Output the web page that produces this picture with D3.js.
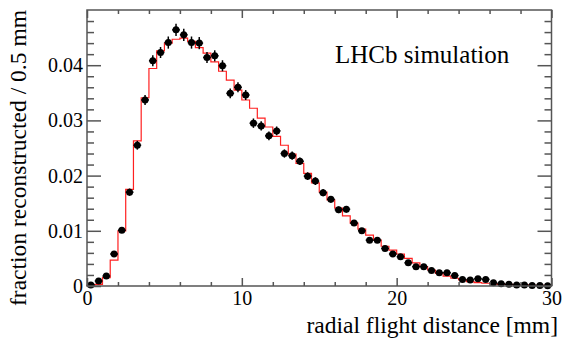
<!DOCTYPE html>
<html><head><meta charset="utf-8">
<script src="https://cdn.jsdelivr.net/npm/d3@7"></script>
<style>
html,body{margin:0;padding:0;background:#fff;}
svg{display:block;}
</style></head>
<body>
<svg id="c" width="581" height="346"></svg>
<script>
// bin edges: 60 bins of 0.5 mm from 0 to 30
const binWidth = 0.5;
const binLow = d3.range(0, 30, 0.5);
// data points (fraction reconstructed / 0.5 mm)
const dataValues = [
 0.0002,0.0009,0.0018,0.0058,0.0101,0.0170,0.0255,0.0337,0.0408,0.0423,
 0.0441,0.0464,0.0455,0.0441,0.0440,0.0414,0.0417,0.0399,0.0349,0.0360,
 0.0346,0.0295,0.0290,0.0272,0.0281,0.0240,0.0236,0.0226,0.0199,0.0190,
 0.0169,0.0157,0.0138,0.0139,0.0114,0.0100,0.0083,0.0083,0.0068,0.0058,
 0.0053,0.0042,0.0035,0.0035,0.0028,0.0024,0.0024,0.0019,0.0012,0.0011,
 0.0013,0.0012,0.0006,0.0004,0.0003,0.0002,0.0002,0.0001,0.0001,0.00005];
const dataErrors = [
 0.0001,0.00015,0.0002,0.00035,0.0005,0.00065,0.0008,0.0009,0.001,0.001,
 0.0011,0.0011,0.0011,0.0011,0.0011,0.001,0.001,0.001,0.0009,0.0009,
 0.0009,0.00085,0.00085,0.0008,0.0008,0.00075,0.00075,0.0007,0.0007,0.0007,
 0.00065,0.0006,0.0006,0.0006,0.00055,0.0005,0.00045,0.00045,0.0004,0.00035,
 0.00035,0.0003,0.0003,0.0003,0.00025,0.00025,0.00025,0.0002,0.00015,0.00015,
 0.00015,0.00015,0.0001,0.0001,0.0001,0.0001,0.0001,0.0001,0.0001,0.0001];
// simulation histogram (red)
const simValues = [
 0.0001,0.0003,0.0015,0.0047,0.0100,0.0175,0.0263,0.0341,0.0394,0.0426,
 0.0440,0.0447,0.0449,0.0443,0.0432,0.0422,0.0406,0.0389,0.0373,0.0355,
 0.0337,0.0322,0.0304,0.0288,0.0271,0.0255,0.0239,0.0222,0.0204,0.0187,
 0.0170,0.0156,0.0141,0.0127,0.0114,0.0103,0.0092,0.0083,0.0072,0.0065,
 0.0058,0.0050,0.0042,0.0035,0.0029,0.0023,0.0018,0.0014,0.0011,0.0008,
 0.0006,0.0005,0.0004,0.0003,0.0003,0.0002,0.0002,0.0001,0.0001,0.0001];
const xMajor = [0,10,20,30];
const xMinor = [2,4,6,8,12,14,16,18,22,24,26,28];
const yMajor = [0,0.01,0.02,0.03,0.04];
const yMinor = [0.002,0.004,0.006,0.008,0.012,0.014,0.016,0.018,0.022,0.024,0.026,0.028,0.032,0.034,0.036,0.038,0.042,0.044,0.046,0.048];
const yTickLabels = ["0","0.01","0.02","0.03","0.04"];
const xTitle = "radial flight distance [mm]";
const yTitle = "fraction reconstructed / 0.5 mm";
const label = "LHCb simulation";

const FONT = '"Liberation Serif"';
const L=87, R=551.5, T=10, B=286;
const x = d3.scaleLinear().domain([0,30]).range([L,R]);
const y = d3.scaleLinear().domain([0,0.05]).range([B,T]);
const svg = d3.select("#c");
const axisCol = "#555";

// histogram step line
const stepPts = [];
binLow.forEach((lo,i)=>{ stepPts.push([lo, simValues[i]]); stepPts.push([lo+binWidth, simValues[i]]); });
const line = d3.line().x(d=>x(d[0])).y(d=>y(d[1]));
svg.append("path").attr("d", line([[0,0]].concat(stepPts)))
  .attr("fill","none").attr("stroke","#ff2020").attr("stroke-width",1.2);

// data points
const g = svg.append("g");
binLow.forEach((lo,i)=>{
  const cx = x(lo+binWidth/2), v = dataValues[i], e = dataErrors[i];
  g.append("line").attr("x1",cx).attr("x2",cx).attr("y1",y(v-e)).attr("y2",y(v+e))
    .attr("stroke","#000").attr("stroke-width",1.5);
  g.append("line").attr("x1",x(lo)).attr("x2",x(lo+binWidth)).attr("y1",y(v)).attr("y2",y(v))
    .attr("stroke","#000").attr("stroke-width",1.5);
  g.append("circle").attr("cx",cx).attr("cy",y(v)).attr("r",3.5).attr("fill","#000");
});

function styleAxis(sel){
  sel.select(".domain").remove();
  sel.attr("font-family",null).attr("font-size",null);
  sel.selectAll(".tick line").attr("stroke",axisCol).attr("stroke-width",1.5);
  sel.selectAll("text").style("font-family",FONT).style("font-size","20px").attr("fill","#000");
}
// minor ticks first
svg.append("g").attr("transform",`translate(${L},0)`)
  .call(d3.axisLeft(y).tickValues(yMinor).tickSize(-7).tickFormat("")).call(styleAxis);
svg.append("g").attr("transform",`translate(${R},0)`)
  .call(d3.axisRight(y).tickValues(yMajor).tickSize(-14).tickFormat("")).call(styleAxis);
svg.append("g").attr("transform",`translate(${R},0)`)
  .call(d3.axisRight(y).tickValues(yMinor).tickSize(-7).tickFormat("")).call(styleAxis);
svg.append("g").attr("transform",`translate(0,${B})`)
  .call(d3.axisBottom(x).tickValues(xMinor).tickSize(-4).tickFormat("")).call(styleAxis);
svg.append("g").attr("transform",`translate(0,${T})`)
  .call(d3.axisTop(x).tickValues(xMajor).tickSize(-8).tickFormat("")).call(styleAxis);
svg.append("g").attr("transform",`translate(0,${T})`)
  .call(d3.axisTop(x).tickValues(xMinor).tickSize(-4).tickFormat("")).call(styleAxis);
// labelled axes
svg.append("g").attr("transform",`translate(${L},0)`)
  .call(d3.axisLeft(y).tickValues(yMajor).tickSize(-14).tickPadding(4).tickFormat((d,i)=>yTickLabels[i])).call(styleAxis);
svg.append("g").attr("transform",`translate(0,${B})`)
  .call(d3.axisBottom(x).tickValues(xMajor).tickSize(-8).tickPadding(5).tickFormat(d3.format("d"))).call(styleAxis);

// frame
svg.append("rect").attr("x",L).attr("y",T).attr("width",R-L).attr("height",B-T)
  .attr("fill","none").attr("stroke",axisCol).attr("stroke-width",1.5);

// titles (22px glyphs scaled up to ~23.5px)
svg.append("text").attr("transform","translate(558,333) scale(1.07)").attr("text-anchor","end")
  .style("font-family",FONT).style("font-size","22px").text(xTitle);
svg.append("text").attr("transform","translate(26,10) rotate(-90) scale(1.07)").attr("text-anchor","end")
  .style("font-family",FONT).style("font-size","22px").text(yTitle);
svg.append("text").attr("x",335).attr("y",63)
  .style("font-family",FONT).style("font-size","25px").text(label);
</script>
</body></html>
